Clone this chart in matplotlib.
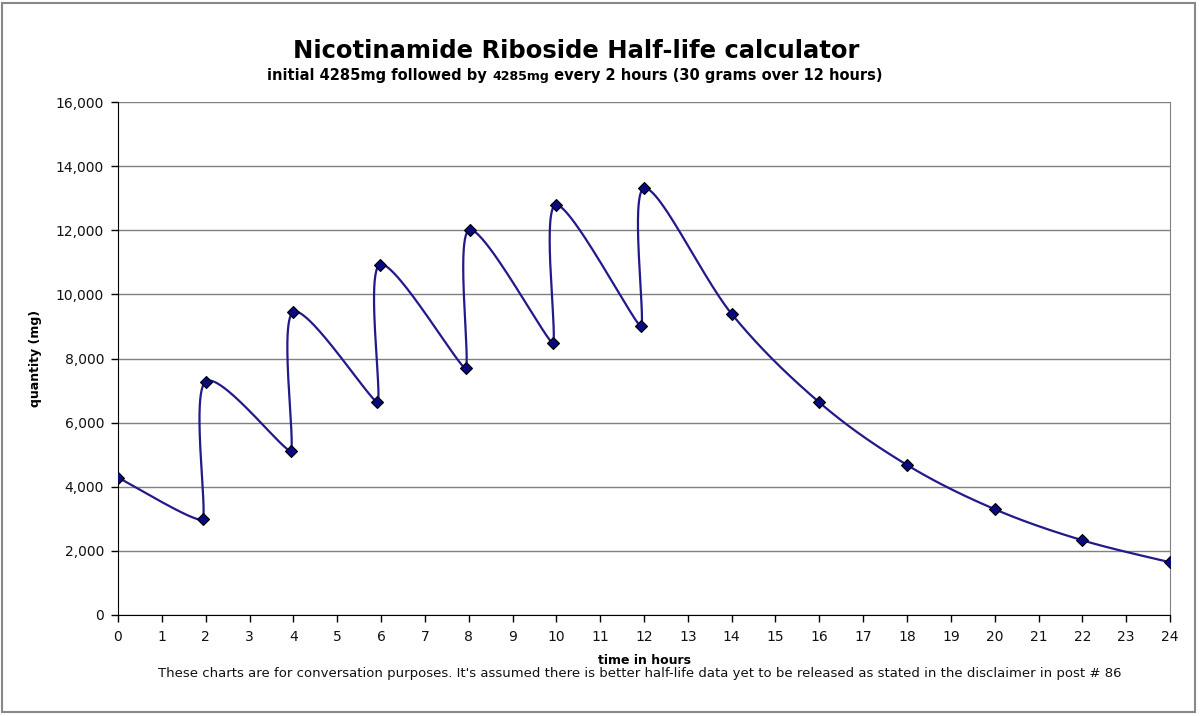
import numpy as np
import matplotlib
matplotlib.use("Agg")
import matplotlib.pyplot as plt
from matplotlib.patches import Rectangle

# ---- data ----
hours = [0, 1.93, 2.0, 3.94, 4.0, 5.92, 5.98, 7.93, 8.02, 9.92, 9.99,
         11.93, 12.01, 14.0, 16.0, 18.0, 20.0, 22.0, 24.0]
quantity = [4285, 2990, 7280, 5130, 9450, 6650, 10930, 7700, 12010, 8490, 12790,
            9010, 13310, 9390, 6630, 4680, 3300, 2330, 1645]
x_ticks = list(range(0, 25))
y_ticks = list(range(0, 16001, 2000))

title = "Nicotinamide Riboside Half-life calculator"
footnote = ("These charts are for conversation purposes. It's assumed there is better "
            "half-life data yet to be released as stated in the disclaimer in post # 86")

plt.rcParams['font.family'] = ['DejaVu Sans']

fig = plt.figure(figsize=(12, 7.16), dpi=100)
W, H = 1200, 716
ax = fig.add_axes([118 / W, 1 - 615 / H, (1170 - 118) / W, (615 - 102) / H])
ax.set_xlim(0, 24)
ax.set_ylim(0, 16000)

# Excel-like smoothed line (Bezier through the points, computed in display space)
pts = ax.transData.transform(np.column_stack([hours, quantity]))
n = len(pts)
ext = np.vstack([pts[0], pts, pts[-1]])
tang = (ext[2:] - ext[:-2]) / 2.0
# shorter handles at the troughs (just before each dose)
k = np.ones(n)
for i in range(1, n - 1):
    if pts[i][1] < pts[i - 1][1] and pts[i][1] < pts[i + 1][1]:
        k[i] = 0.35
curve = []
t = np.linspace(0, 1, 80)[:, None]
for i in range(n - 1):
    p0 = pts[i]
    p3 = pts[i + 1]
    p1 = p0 + k[i] * tang[i] / 3.0
    p2 = p3 - k[i + 1] * tang[i + 1] / 3.0
    seg = ((1 - t) ** 3) * p0 + 3 * ((1 - t) ** 2) * t * p1 + 3 * (1 - t) * t ** 2 * p2 + t ** 3 * p3
    curve.append(seg if i == 0 else seg[1:])
curve = np.vstack(curve)
curve_data = ax.transData.inverted().transform(curve)

ax.plot(curve_data[:, 0], curve_data[:, 1], color='#22198a', lw=1.6, zorder=3)
ax.plot(hours, quantity, linestyle='none', marker='D', markersize=6.5,
        markerfacecolor='#0a0a80', markeredgecolor='black', markeredgewidth=0.8, zorder=4)

# grid and spines
ax.set_yticks(y_ticks)
ax.set_xticks(x_ticks)
ax.yaxis.grid(True, color='#808080', lw=1.0)
ax.set_axisbelow(True)
ax.set_yticklabels([f"{v:,}" for v in y_ticks])
ax.tick_params(axis='both', direction='out', length=5, width=1, color='black',
               labelsize=10, labelcolor='#111111')
ax.tick_params(axis='x', pad=6)
ax.tick_params(axis='y', pad=5)
ax.spines['top'].set_visible(False)
ax.spines['right'].set_color('#808080')
ax.spines['left'].set_color('black')
ax.spines['bottom'].set_color('black')

ax.set_xlabel("time in hours", fontsize=9, fontweight='bold', labelpad=7)
ax.set_ylabel("quantity (mg)", fontsize=9, fontweight='bold', labelpad=10)

# title
fig.text(576 / W, 1 - 51 / H, title, ha='center', va='center', fontsize=17.5,
         fontweight='bold')

# subtitle with a smaller middle part
parts = [("initial 4285mg followed by ", 10.5, 'bold'),
         ("4285mg", 9, 'bold'),
         (" every 2 hours (30 grams over 12 hours)", 10.5, 'bold')]
fig.canvas.draw()
renderer = fig.canvas.get_renderer()
texts = []
total = 0
for s, fs, fw in parts:
    tx = fig.text(0, 1 - 80 / H, s, ha='left', va='baseline', fontsize=fs, fontweight=fw)
    w = tx.get_window_extent(renderer).width
    texts.append((tx, w))
    total += w
x0 = 575 - total / 2
for tx, w in texts:
    tx.set_x(x0 / W)
    x0 += w

fig.text(640 / W, 1 - 674 / H, footnote, ha='center', va='center', fontsize=9.5,
         color='#111111')

# outer frame
fig.patches.append(Rectangle((2 / W, 4 / H), 1193 / W, 709 / H, transform=fig.transFigure,
                             fill=False, edgecolor='#888888', lw=1.5))

fig.savefig("out.png", dpi=100)
